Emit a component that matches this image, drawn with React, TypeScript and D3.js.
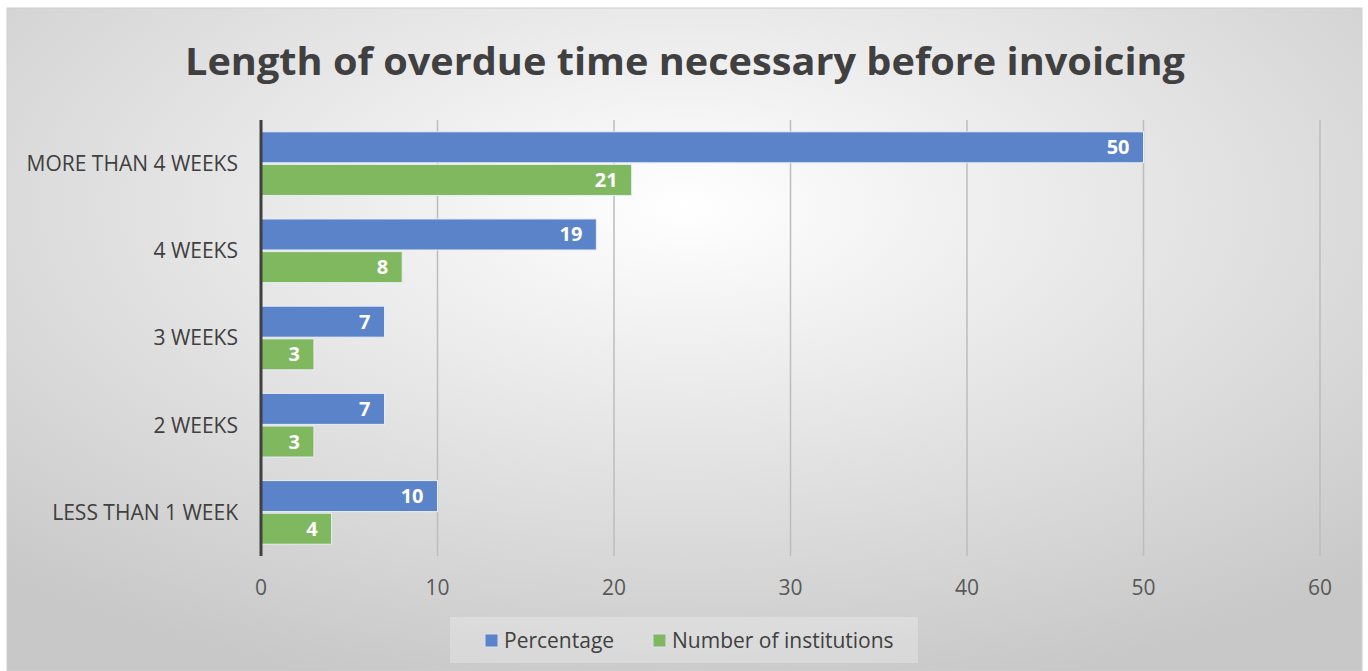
import React from "react";
import * as d3 from "d3";

const categories = ["MORE THAN 4 WEEKS", "4 WEEKS", "3 WEEKS", "2 WEEKS", "LESS THAN 1 WEEK"];
const percentage = [50, 19, 7, 7, 10];
const institutions = [21, 8, 3, 3, 4];
const xTicks = [0, 10, 20, 30, 40, 50, 60];
const seriesNames = ["Percentage", "Number of institutions"];
const seriesColors = ["#5b83c9", "#80b860"];

const W = 1368, H = 671;
const FONT = "'Open Sans', sans-serif";

export default function App() {
  const x = d3.scaleLinear().domain([0, 60]).range([261, 1320]);
  const y = d3.scaleBand().domain(categories).range([120, 556]).paddingInner(0.27).paddingOuter(0.135);
  const sub = d3.scaleBand().domain(seriesNames).range([0, y.bandwidth()]).paddingInner(0.05);
  const series = [percentage, institutions];

  return (
    <svg width={W} height={H} style={{ position: "absolute", left: 0, top: 0 }}>
      <defs>
        <radialGradient id="bg" cx="0.5" cy="0.3" r="0.75">
          <stop offset="0" stopColor="#ffffff" />
          <stop offset="1" stopColor="#c8c8c8" />
        </radialGradient>
      </defs>
      <rect x={0} y={0} width={W} height={H} fill="#ffffff" />
      <rect x={7} y={8} width={1355} height={663} fill="url(#bg)" stroke="#d0d0d0" />
      <text x={685} y={75} textAnchor="middle" fontFamily={FONT} fontWeight="bold" fontSize={38} fill="#404040" textLength={1000} lengthAdjust="spacingAndGlyphs">
        Length of overdue time necessary before invoicing
      </text>
      {xTicks.slice(1).map((t) => (
        <line key={t} x1={x(t)} x2={x(t)} y1={120} y2={556} stroke="#bdbdbd" strokeWidth={1.5} />
      ))}
      {categories.map((c, i) =>
        series.map((s, j) => {
          const by = (y(c) as number) + (sub(seriesNames[j]) as number);
          const bh = sub.bandwidth();
          return (
            <g key={c + j}>
              <rect x={x(0)} y={by} width={x(s[i]) - x(0)} height={bh} fill={seriesColors[j]} stroke="#e8eef5" strokeWidth={1} />
              <text x={x(s[i]) - 14} y={by + bh / 2} dy="0.35em" textAnchor="end" fontFamily={FONT} fontWeight="bold" fontSize={20} fill="#ffffff">
                {s[i]}
              </text>
            </g>
          );
        })
      )}
      <line x1={x(0)} x2={x(0)} y1={120} y2={556} stroke="#404040" strokeWidth={3} />
      {categories.map((c) => (
        <text key={c} x={238} y={(y(c) as number) + y.bandwidth() / 2} dy="0.35em" textAnchor="end" fontFamily={FONT} fontSize={21} fill="#404040">
          {c}
        </text>
      ))}
      {xTicks.map((t) => (
        <text key={t} x={x(t)} y={588} dy="0.35em" textAnchor="middle" fontFamily={FONT} fontSize={21} fill="#595959">
          {t}
        </text>
      ))}
      <rect x={450} y={617} width={468} height={46} fill="#ffffff" fillOpacity={0.25} />
      {seriesNames.map((n, j) => {
        const lx = [485, 653][j];
        return (
          <g key={n}>
            <rect x={lx} y={634} width={13} height={13} fill={seriesColors[j]} stroke="#dde" />
            <text x={lx + 19} y={641} dy="0.35em" fontFamily={FONT} fontSize={21} fill="#404040">{n}</text>
          </g>
        );
      })}
    </svg>
  );
}
